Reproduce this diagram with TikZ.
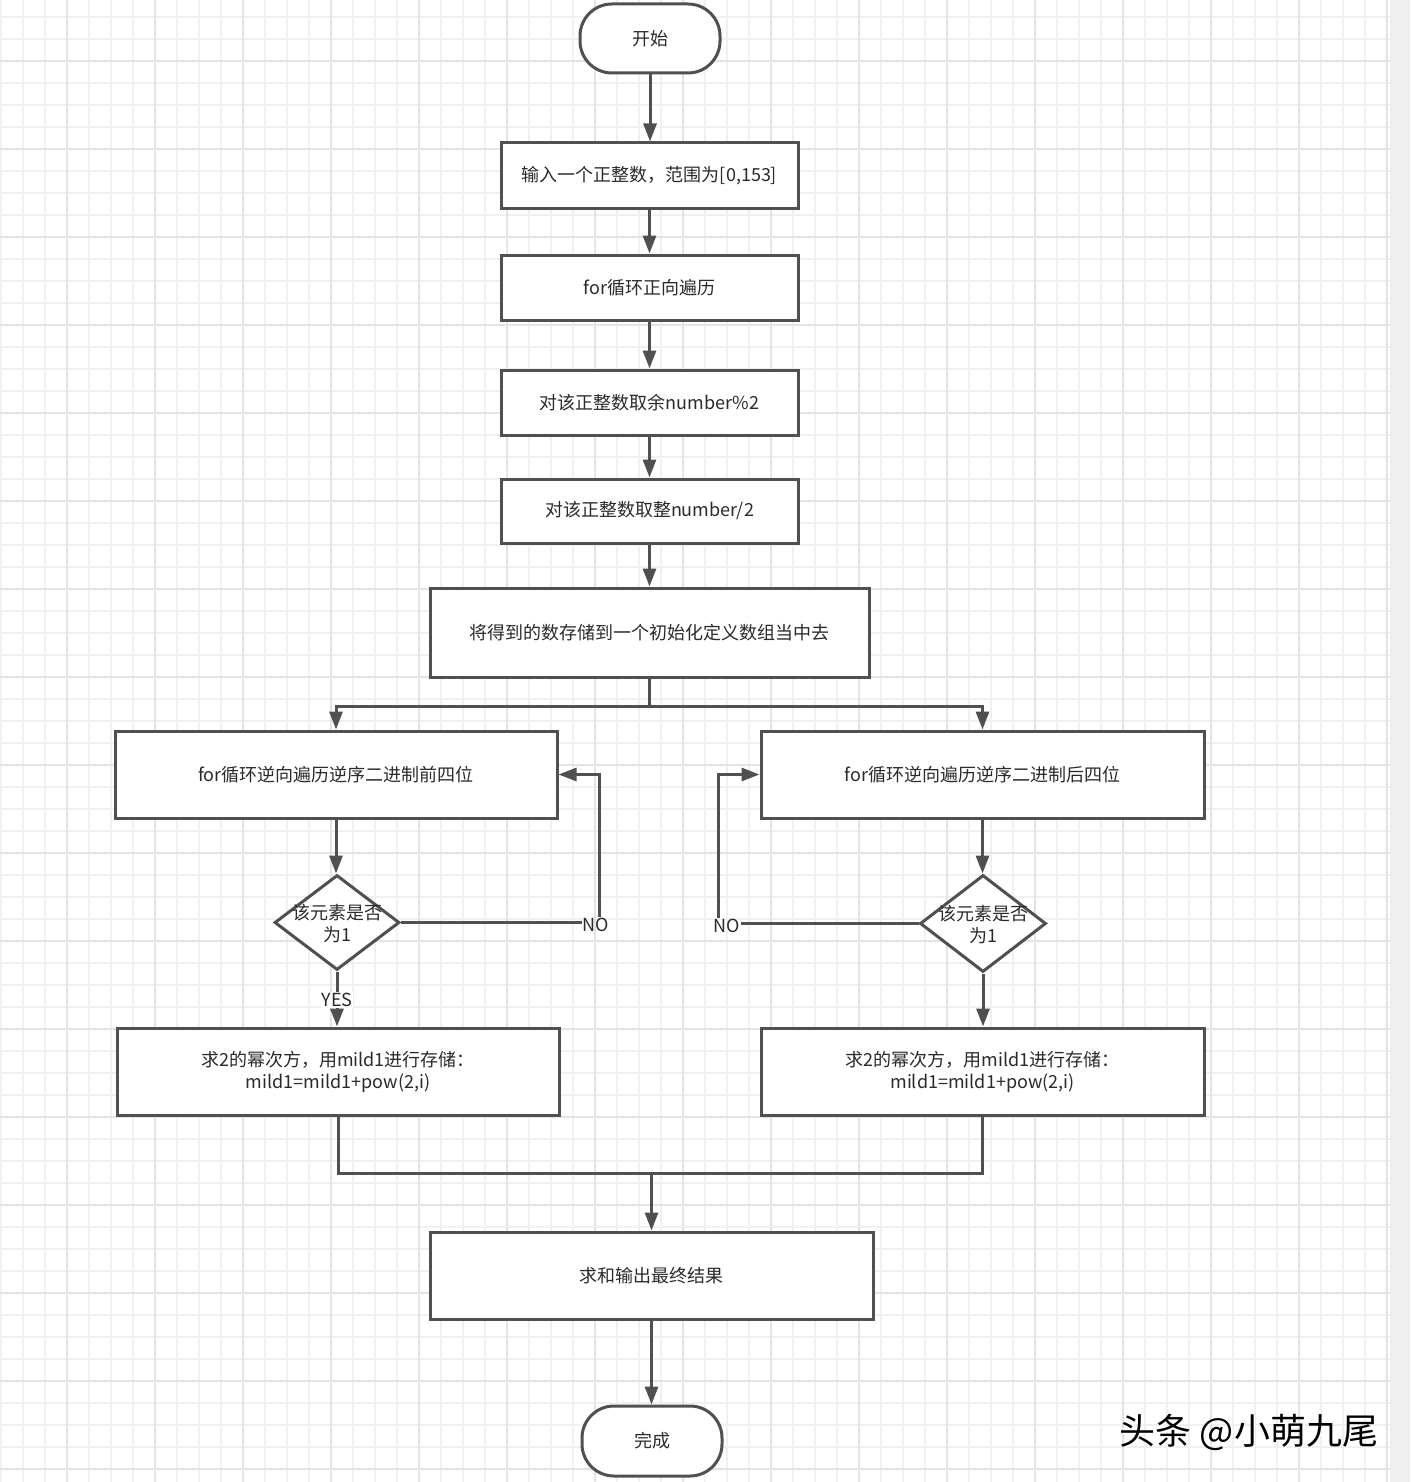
\documentclass[tikz,border=0pt]{standalone}
\usepackage{fontspec}
\setmainfont{Noto Sans CJK SC}
\usetikzlibrary{arrows.meta,shapes.geometric}
\definecolor{gridminor}{HTML}{F0F0F0}
\definecolor{gridmajor}{HTML}{E3E3E3}
\definecolor{edgec}{HTML}{505050}
\definecolor{txtc}{HTML}{2A2A2A}
\definecolor{bandc}{HTML}{EFEFEF}
\begin{document}
\begin{tikzpicture}[x=1pt,y=-1pt,
  every node/.style={text=txtc,font=\fontsize{18}{22}\selectfont},
  proc/.style={draw=edgec,line width=3pt,fill=white,rectangle,align=center,inner sep=0pt},
  term/.style={proc,rounded corners=32pt},
  decide/.style={draw=edgec,line width=3pt,fill=white,diamond,inner sep=0pt},
  lbl/.style={inner sep=1pt},
  conn/.style={draw=edgec,line width=3pt},
  arr/.style={conn,-{Triangle[length=18pt,width=13pt]}},
  gmin/.style={draw=gridminor,line width=1.5pt},
  gmaj/.style={draw=gridmajor,line width=2pt}]
\useasboundingbox (0,0) rectangle (1410,1482);
\fill[white] (0,0) rectangle (1410,1482);
% grid
\foreach \k in {0,...,63} {\draw[gmin] (1+22*\k,0) -- (1+22*\k,1482);}
\foreach \k in {0,...,68} {\draw[gmin] (0,17+22*\k) -- (1390,17+22*\k);}
\foreach \k in {0,...,15} {\draw[gmaj] (67+88*\k,0) -- (67+88*\k,1482);}
\foreach \k in {0,...,16} {\draw[gmaj] (0,61+88*\k) -- (1390,61+88*\k);}
\fill[bandc] (1390,0) rectangle (1410,1482);
% nodes
\node[term,minimum width=140pt,minimum height=69pt] (start) at (650,38.5) {开始};
\node[proc,minimum width=297pt,minimum height=65pt] (b1) at (649.5,175.5) {输入一个正整数，范围为[0,153]};
\node[proc,minimum width=297pt,minimum height=65pt] (b2) at (649.5,287.5) {for循环正向遍历};
\node[proc,minimum width=297pt,minimum height=65pt] (b3) at (649.5,402.5) {对该正整数取余number\%2};
\node[proc,minimum width=297pt,minimum height=64pt] (b4) at (649.5,511) {对该正整数取整number/2};
\node[proc,minimum width=439pt,minimum height=89pt] (b5) at (649.5,632.5) {将得到的数存储到一个初始化定义数组当中去};
\node[proc,minimum width=442pt,minimum height=87pt] (L1) at (336,774.5) {for循环逆向遍历逆序二进制前四位};
\node[proc,minimum width=443pt,minimum height=87pt] (R1) at (982.5,774.5) {for循环逆向遍历逆序二进制后四位};
\node[decide,minimum width=125pt,minimum height=95pt] (dL) at (337,922.5) {};
\node[decide,minimum width=126pt,minimum height=97pt] (dR) at (983,923.5) {};
\node[align=center,inner sep=0pt] (tL) at (337,924) {该元素是否\\为1};
\node[align=center,inner sep=0pt] (tR) at (983,925) {该元素是否\\为1};
\node[proc,minimum width=442pt,minimum height=87pt] (L2) at (338,1071.5) {求2的幂次方，用mild1进行存储：\\mild1=mild1+pow(2,i)};
\node[proc,minimum width=443pt,minimum height=87pt] (R2) at (982.5,1071.5) {求2的幂次方，用mild1进行存储：\\mild1=mild1+pow(2,i)};
\node[proc,minimum width=443pt,minimum height=87pt] (fin) at (651.5,1275.5) {求和输出最终结果};
\node[term,minimum width=140pt,minimum height=70pt] (end) at (652,1441) {完成};
\node[lbl] (noL) at (596,925) {NO};
\node[lbl] (noR) at (727,926) {NO};
\node[text=white,inner sep=0pt,font=\fontsize{36}{42}\selectfont] (wmsh) at (1250.5,1433.5) {头条 @小萌九尾};
\node[text=black,inner sep=0pt,font=\fontsize{36}{42}\selectfont] (wm) at (1249,1432) {头条 @小萌九尾};
% connectors
\draw[arr] (start.south) -- (start.south |- b1.north);
\draw[arr] (b1.south) -- (b1.south |- b2.north);
\draw[arr] (b2.south) -- (b2.south |- b3.north);
\draw[arr] (b3.south) -- (b3.south |- b4.north);
\draw[arr] (b4.south) -- (b4.south |- b5.north);
\draw[conn] (b5.south) -- ++(0,28) coordinate (sp);
\draw[arr] (sp) -| (L1.north);
\draw[arr] (sp) -| (R1.north);
\draw[arr] (L1.south) -- (L1.south |- dL.north);
\draw[arr] (R1.south) -- (R1.south |- dR.north);
\draw[conn] (dL.east) -- (dL.east -| noL.west);
\draw[arr] ([xshift=3pt]noL.north) |- (L1.east);
\draw[conn] (dR.west) -- (dR.west -| noR.east);
\draw[arr] ([xshift=-9pt]noR.north) |- (R1.west);
\draw[arr] (dL.south) -- node[lbl,fill=white,pos=0.52] (yes) {YES} (dL.south |- L2.north);
\draw[arr] (dR.south) -- (dR.south |- R2.north);
\coordinate (mg) at (fin.north |- 0,1173);
\draw[conn] (L2.south) |- (mg) -| (R2.south);
\draw[arr] (mg) -- (fin.north);
\draw[arr] (fin.south) -- (fin.south |- end.north);
\end{tikzpicture}
\end{document}
